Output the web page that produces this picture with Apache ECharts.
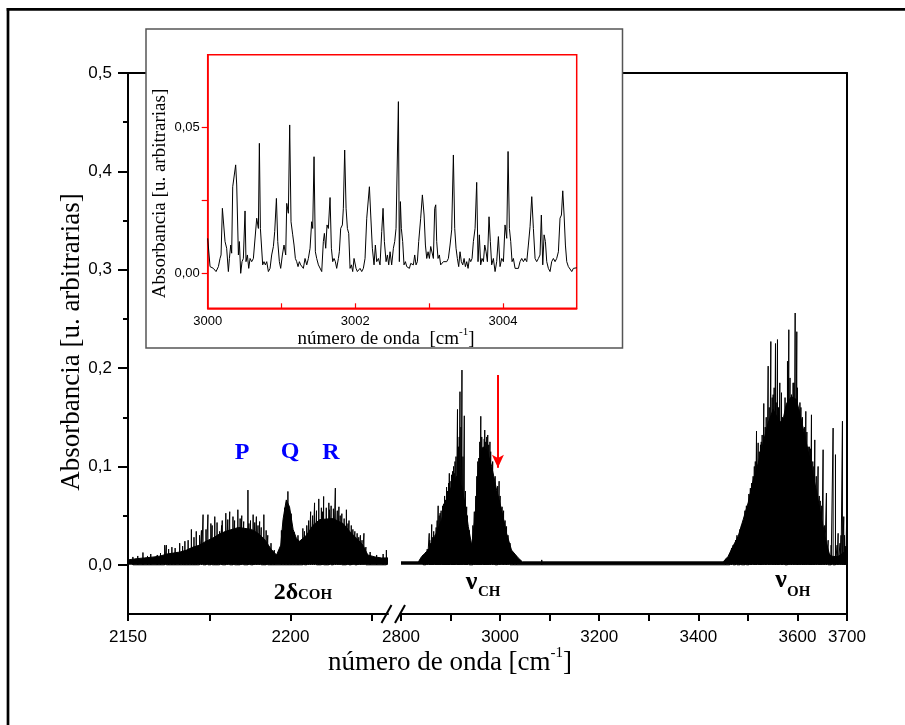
<!DOCTYPE html>
<html><head><meta charset="utf-8">
<script src="https://cdn.jsdelivr.net/npm/echarts@6/dist/echarts.min.js"></script>
<style>html,body{margin:0;padding:0;background:#fff}#c{width:905px;height:725px}</style>
</head><body><div id="c"></div>
<script>
// ---- main spectrum, left segment (2150-2230 cm-1): band envelope + individual lines
const leftEnvWn  = [2150,2152,2155,2158,2160,2162,2164,2166,2168,2170,2172,2174,2176,2178,2180,2182,2184,2186,2188,2190,2192,2194,2195.7,2196.3,2197,2197.7,2198.7,2199.7,2200.8,2201.8,2202.8,2204.9,2206.9,2209,2213,2216.2,2218.2,2220.3,2222.3,2223.8,2226,2228,2230];
const leftEnvAbs = [0.005,0.006,0.007,0.008,0.009,0.011,0.012,0.013,0.015,0.018,0.020,0.024,0.027,0.031,0.034,0.036,0.038,0.037,0.036,0.032,0.026,0.016,0.010,0.008,0.020,0.046,0.066,0.059,0.036,0.027,0.024,0.030,0.040,0.046,0.047,0.042,0.034,0.027,0.020,0.010,0.008,0.007,0.007];
const leftLineWn  = [2154.6,2157,2159,2161.3,2161.8,2163.5,2165.9,2167.5,2169.5,2171,2172,2173.1,2174.6,2175.5,2176.7,2178.2,2179,2180.1,2181.3,2182.3,2183.8,2185,2186.9,2187.7,2188.5,2189.5,2190.5,2191.8,2193,2199.2,2203.8,2205,2206.2,2207.4,2208.7,2209.5,2210.2,2211.8,2212.5,2213.8,2214.9,2215.8,2217.2,2218,2219.2,2220.5,2221.5,2222.6,2229.5,
  2151.5,2153,2156,2160,2162.5,2164.5,2166.8,2168.5,2170.3,2172.6,2174,2175.9,2177.4,2178.8,2180.7,2182.8,2184.5,2185.6,2187.2,2189,2190,2191,2192.5,2194,2195,2197.2,2198.2,2200.2,2201.2,2202.3,2204.3,2205.6,2206.8,2208,2209.9,2211,2212,2213.2,2214.4,2215.3,2216.5,2217.7,2218.7,2219.8,2221,2222,2223.2,2224.5,2226.5,2228.5];
const leftLineAbs = [0.0125,0.011,0.010,0.020,0.020,0.018,0.022,0.024,0.036,0.034,0.030,0.051,0.051,0.042,0.049,0.034,0.045,0.0525,0.054,0.049,0.056,0.050,0.076,0.045,0.051,0.049,0.044,0.051,0.030,0.0746,0.037,0.040,0.054,0.063,0.067,0.058,0.0695,0.063,0.060,0.078,0.059,0.052,0.056,0.045,0.036,0.032,0.030,0.032,0.015,
  0.008,0.009,0.009,0.012,0.016,0.017,0.019,0.025,0.028,0.035,0.036,0.040,0.043,0.040,0.046,0.045,0.047,0.044,0.042,0.043,0.040,0.038,0.035,0.022,0.015,0.035,0.058,0.052,0.033,0.030,0.034,0.045,0.050,0.055,0.054,0.058,0.056,0.057,0.055,0.050,0.047,0.042,0.040,0.034,0.028,0.025,0.018,0.013,0.010,0.011];

// ---- main spectrum, right segment (2800-3700 cm-1): CH and OH bands
const rightEnvWn  = [2800,2835,2841.7,2855,2868.6,2882,2892,2902,2912,2922,2929,2935.8,2942.6,2949,2956,2964,2973,2983,2993,3003,3013,3023,3036.6,3045,3450,3460,3470,3480.4,3490.5,3500.5,3510.6,3520.7,3530.8,3540.8,3551,3559,3566,3572,3577.8,3588,3598,3608,3618,3628,3638,3648,3658.5,3665,3672,3682,3692,3700];
const rightEnvAbs = [0.003,0.003,0.0085,0.015,0.029,0.046,0.066,0.080,0.090,0.080,0.063,0.039,0.020,0.046,0.097,0.119,0.117,0.100,0.076,0.056,0.032,0.015,0.007,0.003,0.003,0.0085,0.019,0.029,0.046,0.063,0.086,0.103,0.124,0.144,0.158,0.150,0.145,0.150,0.164,0.171,0.168,0.147,0.124,0.100,0.076,0.049,0.022,0.010,0.0085,0.0085,0.012,0.015];
const rightLineWn  = [2857,2858,2862,2869,2875,2879,2890,2892,2896,2897.5,2902,2907.6,2914,2919,2923,2927.7,2932.5,2948,2957,2961,2966,2969,2975,2979.5,2988,2998,3004,3013,3084,
  2845,2850,2853,2860,2864,2866,2871,2873,2877,2881,2884,2886,2888,2894,2899,2904,2906,2909,2911,2916,2917.5,2921,2925,2930,2934,2938,2945,2951,2953,2955,2959,2963,2968,2971,2973,2977,2981,2985,2990,2995,3000,3007,3010,3016,3020,3027,3033,
  3463.6,3467,3470.3,3507.3,3510.6,3517.4,3520.7,3525.4,3528.8,3532.1,3540.9,3546.3,3551,3555.7,3559.7,3564.4,3567.8,3573.2,3579.9,3582.6,3588,3591.3,3595.4,3598.7,3602.7,3611.5,3616.9,3621.6,3628.3,3635,3641.7,3651.8,3658.5,3672,3676.7,3682.1,3690.8,3693.5,3697.5,
  3455,3475,3478,3484,3487,3494,3497,3502,3505,3513,3515,3523,3527,3535,3537,3543,3549,3553,3557,3562,3570,3575,3585,3593,3600,3605,3607,3610,3614,3619,3624,3626,3631,3633,3638,3644,3646,3649,3655,3662,3668,3680,3686,3688,3695,3699];
const rightLineAbs = [0.032,0.025,0.041,0.0305,0.060,0.0525,0.066,0.079,0.083,0.093,0.0915,0.093,0.158,0.176,0.198,0.1515,0.059,0.054,0.1085,0.151,0.120,0.137,0.132,0.125,0.080,0.085,0.059,0.039,0.005,
  0.010,0.013,0.016,0.022,0.028,0.034,0.038,0.045,0.050,0.055,0.060,0.062,0.070,0.075,0.085,0.095,0.100,0.105,0.110,0.120,0.130,0.140,0.110,0.075,0.050,0.035,0.040,0.070,0.090,0.105,0.125,0.130,0.128,0.125,0.130,0.122,0.115,0.105,0.090,0.080,0.070,0.055,0.045,0.030,0.022,0.012,0.009,
  0.012,0.017,0.020,0.083,0.090,0.136,0.124,0.122,0.132,0.164,0.202,0.227,0.173,0.225,0.229,0.185,0.175,0.141,0.207,0.239,0.173,0.185,0.256,0.237,0.158,0.134,0.156,0.120,0.1525,0.127,0.100,0.117,0.073,0.139,0.112,0.032,0.146,0.049,0.019,
  0.006,0.025,0.030,0.036,0.040,0.055,0.060,0.072,0.078,0.100,0.105,0.115,0.125,0.140,0.150,0.160,0.170,0.180,0.165,0.160,0.150,0.170,0.190,0.185,0.180,0.165,0.160,0.150,0.140,0.135,0.120,0.118,0.105,0.100,0.090,0.070,0.065,0.060,0.040,0.025,0.020,0.020,0.022,0.030,0.030,0.040];

// ---- inset: high resolution detail 3000-3005 cm-1
const insetWn = [3000.000,3000.032,3000.077,3000.113,3000.145,3000.167,3000.181,3000.199,3000.212,3000.235,3000.257,3000.280,3000.294,3000.312,3000.325,3000.339,3000.361,3000.379,3000.393,3000.416,3000.429,3000.447,3000.465,3000.483,3000.506,3000.519,3000.538,3000.556,3000.574,3000.596,3000.619,3000.641,3000.664,3000.687,3000.700,3000.714,3000.732,3000.745,3000.763,3000.781,3000.800,3000.822,3000.845,3000.867,3000.890,3000.908,3000.931,3000.949,3000.971,3000.989,
3001.012,3001.034,3001.057,3001.071,3001.093,3001.111,3001.129,3001.152,3001.170,3001.188,3001.206,3001.224,3001.242,3001.260,3001.278,3001.296,3001.319,3001.342,3001.364,3001.387,3001.409,3001.423,3001.441,3001.459,3001.477,3001.500,3001.522,3001.545,3001.567,3001.581,3001.599,3001.617,3001.635,3001.658,3001.676,3001.694,3001.712,3001.730,3001.748,3001.771,3001.784,3001.802,3001.825,3001.838,3001.856,3001.875,3001.893,3001.911,3001.929,3001.947,3001.965,3001.983,
3002.010,3002.028,3002.046,3002.064,3002.087,3002.109,3002.132,3002.155,3002.173,3002.191,3002.209,3002.231,3002.254,3002.272,3002.290,3002.313,3002.335,3002.358,3002.376,3002.394,3002.417,3002.435,3002.453,3002.471,3002.493,3002.516,3002.534,3002.552,3002.570,3002.584,3002.597,3002.611,3002.624,3002.642,3002.660,3002.679,3002.697,3002.715,3002.733,3002.751,3002.769,3002.787,3002.805,3002.823,3002.841,3002.859,3002.886,3002.909,3002.932,3002.950,3002.968,3002.986,
3003.004,3003.022,3003.040,3003.058,3003.076,3003.090,3003.103,3003.121,3003.139,3003.157,3003.176,3003.194,3003.216,3003.239,3003.261,3003.284,3003.306,3003.329,3003.347,3003.365,3003.383,3003.401,3003.419,3003.437,3003.456,3003.474,3003.492,3003.510,3003.528,3003.546,3003.564,3003.582,3003.600,3003.623,3003.645,3003.663,3003.681,3003.699,3003.717,3003.736,3003.754,3003.772,3003.790,3003.812,3003.830,3003.848,3003.871,3003.894,3003.916,3003.939,3003.961,3003.984,
3004.007,3004.029,3004.052,3004.070,3004.088,3004.106,3004.124,3004.142,3004.165,3004.187,3004.210,3004.232,3004.255,3004.278,3004.300,3004.323,3004.345,3004.368,3004.391,3004.413,3004.436,3004.458,3004.481,3004.503,3004.521,3004.540,3004.558,3004.576,3004.594,3004.616,3004.639,3004.661,3004.684,3004.707,3004.729,3004.752,3004.774,3004.793,3004.811,3004.829,3004.847,3004.865,3004.887,3004.910,3004.933,3004.955,3004.978,3005.000];
const insetAbs = [0.0120,0.0023,0.0017,0.0006,0.0023,0.0051,0.0063,0.0223,0.0223,0.0109,0.0086,0.0006,0.0051,0.0097,0.0069,0.0297,0.0303,0.0372,0.0303,0.0063,0.0109,0.0000,0.0040,0.0051,0.0214,0.0040,0.0063,0.0017,0.0051,0.0040,0.0051,0.0051,0.0189,0.0154,0.0446,0.0154,0.0154,0.0029,0.0040,0.0029,0.0040,0.0006,0.0017,0.0063,0.0092,0.0143,0.0257,0.0109,0.0040,0.0017,
0.0063,0.0097,0.0063,0.0240,0.0206,0.0509,0.0177,0.0132,0.0097,0.0051,0.0040,0.0023,0.0040,0.0029,0.0034,0.0017,0.0051,0.0029,0.0051,0.0086,0.0177,0.0154,0.0400,0.0074,0.0051,0.0029,0.0023,0.0006,0.0109,0.0137,0.0086,0.0166,0.0154,0.0260,0.0086,0.0040,0.0051,0.0040,0.0017,0.0051,0.0074,0.0154,0.0166,0.0223,0.0423,0.0223,0.0154,0.0137,0.0017,0.0029,0.0006,0.0051,
0.0017,0.0006,0.0011,0.0017,0.0006,0.0017,0.0051,0.0189,0.0194,0.0297,0.0200,0.0086,0.0029,0.0097,0.0040,0.0051,0.0029,0.0143,0.0223,0.0109,0.0040,0.0063,0.0029,0.0074,0.0029,0.0086,0.0109,0.0154,0.0160,0.0589,0.0040,0.0246,0.0154,0.0109,0.0029,0.0040,0.0023,0.0029,0.0017,0.0034,0.0040,0.0029,0.0063,0.0029,0.0040,0.0109,0.0189,0.0269,0.0200,0.0097,0.0051,0.0074,
0.0051,0.0092,0.0097,0.0051,0.0223,0.0235,0.0109,0.0051,0.0063,0.0029,0.0034,0.0040,0.0034,0.0040,0.0051,0.0097,0.0149,0.0406,0.0154,0.0086,0.0051,0.0023,0.0074,0.0040,0.0029,0.0051,0.0023,0.0040,0.0017,0.0051,0.0040,0.0051,0.0109,0.0154,0.0312,0.0040,0.0132,0.0029,0.0051,0.0040,0.0097,0.0074,0.0040,0.0194,0.0109,0.0029,0.0051,0.0006,0.0040,0.0126,0.0023,0.0051,
0.0040,0.0166,0.0120,0.0418,0.0154,0.0109,0.0040,0.0051,0.0017,0.0011,0.0017,0.0040,0.0051,0.0040,0.0051,0.0040,0.0097,0.0160,0.0263,0.0154,0.0051,0.0040,0.0051,0.0063,0.0200,0.0029,0.0132,0.0109,0.0040,0.0017,0.0006,0.0040,0.0051,0.0040,0.0051,0.0074,0.0189,0.0200,0.0283,0.0200,0.0097,0.0040,0.0023,0.0017,0.0006,0.0017,0.0019,0.0019];

// ---- axis ticks / labels
const mainYLabels = [0, 0.1, 0.2, 0.3, 0.4, 0.5];
const mainYMinor  = [0.05, 0.15, 0.25, 0.35, 0.45];
const leftXLabels = [2150, 2200];
const leftXTicks  = [2150, 2175, 2200, 2225];
const rightXLabels = [2800, 3000, 3200, 3400, 3600, 3700];
const rightXTicks  = [2800, 2900, 3000, 3100, 3200, 3300, 3400, 3500, 3600, 3700];
const insetYLabels = [0, 0.05];
const insetYTicks  = [0, 0.025, 0.05];
const insetXLabels = [3000, 3002, 3004];
const insetXTicks  = [3001, 3002, 3003, 3004];

const zip = (a, b) => a.map((v, i) => [v, b[i]]);
const sticks = (a, b) => {
  const pts = zip(a, b).sort((p, q) => p[0] - q[0]);
  const d = [];
  pts.forEach(p => { d.push([p[0], 0], [p[0], p[1]], [p[0], 0]); });
  return d;
};

const SANS = 'Liberation Sans';
const SERIF = 'Liberation Serif';
const black = '#000';
const plain = v => String(v);

const chart = echarts.init(document.getElementById('c'), null, {renderer: 'canvas'});

const mainBottom = (g, mn, mx, ticks, labels) => ({
  gridIndex: g, type: 'value', min: mn, max: mx, position: 'bottom',
  axisLine: {show: true, onZero: false, lineStyle: {color: black, width: 2}},
  axisTick: {show: true, inside: false, length: 7, customValues: ticks, lineStyle: {color: black, width: 2}},
  axisLabel: {show: true, customValues: labels, margin: 15, fontFamily: SANS, fontSize: 17, color: black, formatter: plain},
  splitLine: {show: false}
});
const border = (g, mn, mx, pos) => ({
  gridIndex: g, type: 'value', min: mn, max: mx, position: pos,
  axisLine: {show: true, onZero: false, lineStyle: {color: black, width: 2}},
  axisTick: {show: false}, axisLabel: {show: false}, splitLine: {show: false}
});

const option = {
  animation: false,
  backgroundColor: '#fff',
  grid: [
    {left: 128, top: 73, width: 260, height: 541},
    {left: 401, top: 73, width: 446, height: 541},
    {left: 207.7, top: 54.7, width: 369, height: 253.6, show: true, borderColor: '#ff0000', borderWidth: 1.5, backgroundColor: 'transparent', z: 60}
  ],
  xAxis: [
    mainBottom(0, 2150, 2230, leftXTicks, leftXLabels),
    border(0, 2150, 2230, 'top'),
    mainBottom(1, 2800, 3700, rightXTicks, rightXLabels),
    border(1, 2800, 3700, 'top'),
    {gridIndex: 2, type: 'value', min: 3000, max: 3005, position: 'bottom', z: 60,
     axisLine: {show: true, onZero: false, lineStyle: {color: '#ff0000', width: 1.5}},
     axisTick: {show: true, inside: true, length: 5, customValues: insetXTicks, lineStyle: {color: '#ff0000', width: 1.2}},
     axisLabel: {show: true, customValues: insetXLabels, margin: 7, fontFamily: SANS, fontSize: 13, color: black, formatter: plain},
     splitLine: {show: false}}
  ],
  yAxis: [
    {gridIndex: 0, type: 'value', min: -0.05, max: 0.5, position: 'left',
     axisLine: {show: true, onZero: false, lineStyle: {color: black, width: 2}},
     axisTick: {show: true, inside: false, length: 10, customValues: mainYLabels, lineStyle: {color: black, width: 2}},
     axisLabel: {show: true, customValues: mainYLabels, margin: 16, fontFamily: SANS, fontSize: 17, color: black,
       formatter: v => v.toFixed(1).replace('.', ',')},
     splitLine: {show: false}},
    {gridIndex: 0, type: 'value', min: -0.05, max: 0.5, position: 'left',
     axisLine: {show: false},
     axisTick: {show: true, inside: false, length: 5, customValues: mainYMinor, lineStyle: {color: black, width: 2}},
     axisLabel: {show: false}, splitLine: {show: false}},
    {gridIndex: 1, type: 'value', min: -0.05, max: 0.5, position: 'right',
     axisLine: {show: true, onZero: false, lineStyle: {color: black, width: 2}},
     axisTick: {show: false}, axisLabel: {show: false}, splitLine: {show: false}},
    {gridIndex: 2, type: 'value', min: -0.012, max: 0.075, position: 'left', z: 60,
     axisLine: {show: true, onZero: false, lineStyle: {color: '#ff0000', width: 1.5}},
     axisTick: {show: true, inside: false, length: 6, customValues: insetYTicks, lineStyle: {color: '#ff0000', width: 1.2}},
     axisLabel: {show: true, customValues: insetYLabels, margin: 8, fontFamily: SANS, fontSize: 13, color: black,
       formatter: v => v.toFixed(2).replace('.', ',')},
     splitLine: {show: false}}
  ],
  series: [
    {type: 'line', xAxisIndex: 0, yAxisIndex: 0, data: zip(leftEnvWn, leftEnvAbs), showSymbol: false, symbol: 'none',
     lineStyle: {color: black, width: 1}, areaStyle: {color: black, opacity: 1}, z: 2},
    {type: 'line', xAxisIndex: 0, yAxisIndex: 0, data: sticks(leftLineWn, leftLineAbs), showSymbol: false, symbol: 'none',
     lineStyle: {color: black, width: 1}, z: 3},
    {type: 'line', xAxisIndex: 2, yAxisIndex: 2, data: zip(rightEnvWn, rightEnvAbs), showSymbol: false, symbol: 'none',
     lineStyle: {color: black, width: 1}, areaStyle: {color: black, opacity: 1}, z: 2},
    {type: 'line', xAxisIndex: 2, yAxisIndex: 2, data: sticks(rightLineWn, rightLineAbs), showSymbol: false, symbol: 'none',
     lineStyle: {color: black, width: 1}, z: 3,
     markLine: {silent: true, symbol: ['none', 'arrow'], symbolSize: [9, 13], label: {show: false},
       lineStyle: {color: '#ff0000', width: 2, type: 'solid'},
       data: [[{coord: [2995.6, 0.193]}, {coord: [2995.6, 0.0986]}]]}},
    {type: 'line', xAxisIndex: 4, yAxisIndex: 3, data: zip(insetWn, insetAbs), showSymbol: false, symbol: 'none',
     lineStyle: {color: black, width: 1}, z: 61}
  ],
  graphic: [
    {type: 'line', shape: {x1: 6.7, y1: 9.3, x2: 905, y2: 9.3}, style: {stroke: black, lineWidth: 2.7}, z: 100},
    {type: 'line', shape: {x1: 8, y1: 8, x2: 8, y2: 725}, style: {stroke: black, lineWidth: 2.7}, z: 100},
    {type: 'line', shape: {x1: 381.5, y1: 623, x2: 391.5, y2: 605}, style: {stroke: black, lineWidth: 2}, z: 100},
    {type: 'line', shape: {x1: 395, y1: 623, x2: 405, y2: 605}, style: {stroke: black, lineWidth: 2}, z: 100},
    {type: 'rect', shape: {x: 146, y: 29, width: 476.5, height: 319}, style: {fill: '#fff', stroke: '#555', lineWidth: 1.5}, z: 50},
    {type: 'text', x: 72, y: 342, rotation: Math.PI / 2, z: 100,
     style: {text: 'Absorbancia [u. arbitrarias]', fill: black, font: '27px "Liberation Serif"', align: 'center', verticalAlign: 'middle'}},
    {type: 'text', x: 450, y: 661, z: 100,
     style: {text: '{a|número de onda [cm}{s|-1}{a|]}', align: 'center', verticalAlign: 'middle',
       rich: {a: {fontFamily: SERIF, fontSize: 27, lineHeight: 30, fill: black, verticalAlign: 'bottom'},
              s: {fontFamily: SERIF, fontSize: 15, lineHeight: 16, fill: black, verticalAlign: 'top'}}}},
    {type: 'text', x: 160, y: 193.5, rotation: Math.PI / 2, z: 100,
     style: {text: 'Absorbancia [u. arbitrarias]', fill: black, font: '19px "Liberation Serif"', align: 'center', verticalAlign: 'middle'}},
    {type: 'text', x: 386, y: 338, z: 100,
     style: {text: '{a|número de onda  [cm}{s|-1}{a|]}', align: 'center', verticalAlign: 'middle',
       rich: {a: {fontFamily: SERIF, fontSize: 19, lineHeight: 22, fill: black, verticalAlign: 'bottom'},
              s: {fontFamily: SERIF, fontSize: 11, lineHeight: 12, fill: black, verticalAlign: 'top'}}}},
    {type: 'text', x: 242, y: 453, z: 100, style: {text: 'P', fill: '#0000ff', font: 'bold 24px "Liberation Serif"', align: 'center', verticalAlign: 'middle'}},
    {type: 'text', x: 290, y: 452, z: 100, style: {text: 'Q', fill: '#0000ff', font: 'bold 24px "Liberation Serif"', align: 'center', verticalAlign: 'middle'}},
    {type: 'text', x: 331, y: 453, z: 100, style: {text: 'R', fill: '#0000ff', font: 'bold 24px "Liberation Serif"', align: 'center', verticalAlign: 'middle'}},
    {type: 'text', x: 286, y: 593, z: 100, style: {text: '2δ', fill: black, font: 'bold 24px "Liberation Serif"', align: 'center', verticalAlign: 'middle'}},
    {type: 'text', x: 298, y: 595.5, z: 100, style: {text: 'COH', fill: black, font: 'bold 15px "Liberation Serif"', align: 'left', verticalAlign: 'middle'}},
    {type: 'text', x: 471.5, y: 582, z: 100, style: {text: 'ν', fill: black, font: 'bold 26px "Liberation Serif"', align: 'center', verticalAlign: 'middle'}},
    {type: 'text', x: 478, y: 592.5, z: 100, style: {text: 'CH', fill: black, font: 'bold 15px "Liberation Serif"', align: 'left', verticalAlign: 'middle'}},
    {type: 'text', x: 781, y: 580, z: 100, style: {text: 'ν', fill: black, font: 'bold 26px "Liberation Serif"', align: 'center', verticalAlign: 'middle'}},
    {type: 'text', x: 787, y: 592.5, z: 100, style: {text: 'OH', fill: black, font: 'bold 15px "Liberation Serif"', align: 'left', verticalAlign: 'middle'}}
  ]
};
chart.setOption(option);
</script></body></html>
